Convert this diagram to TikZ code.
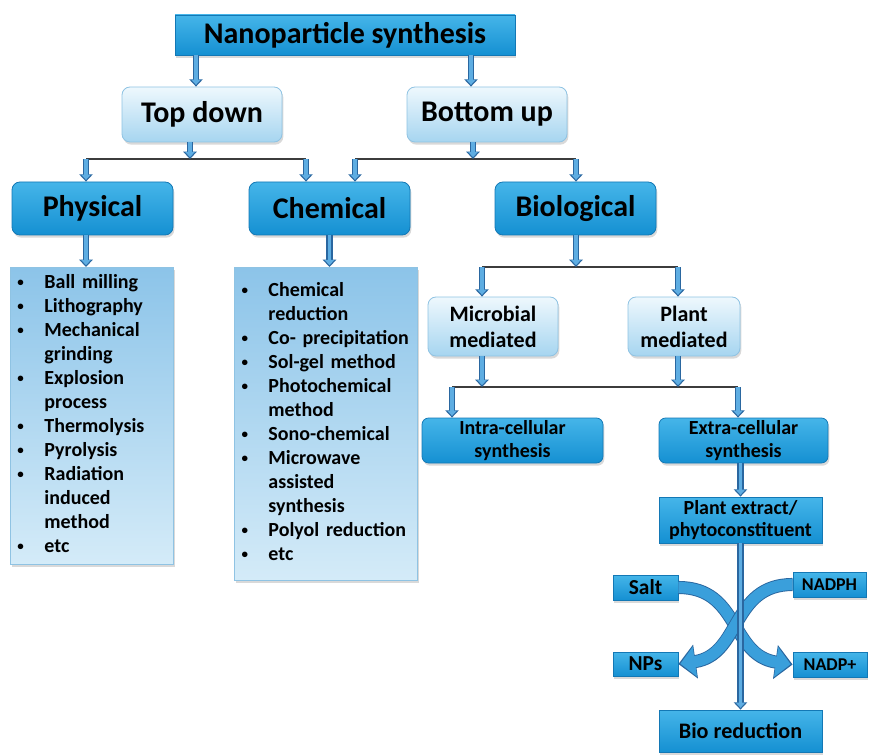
\documentclass[tikz,border=0pt]{standalone}
\usepackage{fontspec}
\usepackage{graphicx}
\setmainfont{Carlito}
\usetikzlibrary{arrows.meta,calc,positioning,shadows}
\definecolor{boxtop}{HTML}{45B5E9}
\definecolor{boxbot}{HTML}{1590D2}
\definecolor{boxedge}{HTML}{1378B5}
\definecolor{lighttop}{HTML}{EEF8FD}
\definecolor{lightbot}{HTML}{A6D5F0}
\definecolor{lightedge}{HTML}{8FC3E3}
\definecolor{listtop}{HTML}{8CC4E9}
\definecolor{listbot}{HTML}{D4EBF8}
\definecolor{arrdark}{HTML}{2A67A0}
\definecolor{arrlight}{HTML}{5EADE2}
\definecolor{bandblue}{HTML}{3A9FDB}
\definecolor{busgray}{HTML}{3C3C3C}
\tikzset{
 softshadow/.style={drop shadow={shadow xshift=1pt,shadow yshift=-2pt,opacity=.3}},
 darkbox/.style={shade,top color=boxtop,bottom color=boxbot,draw=boxedge,line width=.6pt,softshadow},
 lightbox/.style={shade,top color=lighttop,bottom color=lightbot,draw=lightedge,line width=.6pt,rounded corners=6pt,softshadow},
 listbox/.style={shade,top color=listtop,bottom color=listbot,draw=lightedge,line width=.6pt,softshadow},
 hd/.style={font=\fontsize{22.5}{26}\selectfont\bfseries},
 md/.style={font=\fontsize{16.5}{19.5}\selectfont\bfseries},
 sm/.style={font=\fontsize{15}{18}\selectfont\bfseries},
 tiny/.style={font=\fontsize{13.5}{16}\selectfont\bfseries},
 blk/.style={draw=arrlight,line width=2.6pt,shorten >=1.3pt,-{Triangle[width=7pt,length=4pt]},
  preaction={draw=arrdark,line width=4.8pt,shorten >=0pt,-{Triangle[width=10pt,length=5.5pt]}}},
 bus/.style={draw=busgray,line width=1pt},
 band/.style={draw=bandblue,line width=8.4pt,shorten >=1.5pt,-{Triangle[width=22pt,length=11pt]},
  preaction={draw=arrdark,line width=9.8pt,shorten >=0pt,-{Triangle[width=25pt,length=13pt]}}}
}
\newcommand{\itm}{\raisebox{.1em}{\scalebox{.65}{\textbullet}}}
\begin{document}
\begin{tikzpicture}[x=.75pt,y=-.75pt]
\useasboundingbox (0,0) rectangle (875,756);
% top levels
\node[darkbox,hd,minimum width=255pt,minimum height=30pt] (synth) at (345,35) {Nanoparticle synthesis};
\node[lightbox,hd,minimum width=120pt,minimum height=41.25pt] (topdown) at (202,114.5) {Top down};
\node[lightbox,hd,minimum width=120pt,minimum height=41.25pt] (bottomup) at (487,114.5) {Bottom up};
\node[darkbox,rounded corners=6pt,hd,minimum width=120.75pt,minimum height=39.75pt] (phys) at (92.5,208.5) {Physical};
\node[darkbox,rounded corners=6pt,hd,minimum width=120.75pt,minimum height=39.75pt] (chem) at (329.5,208.5) {Chemical};
\node[darkbox,rounded corners=6pt,hd,minimum width=120.75pt,minimum height=39.75pt] (bio) at (575.5,208.5) {Biological};
% method lists
\node[listbox,sm,anchor=north west,minimum width=122.25pt,minimum height=222pt,inner xsep=5.3pt,text width=111.6pt,align=left] (physlist) at (10,267)
 {\begin{tabular}{@{}p{20.2pt}@{}l@{}}
 \itm & Ball milling\\ \itm & Lithography\\ \itm & Mechanical\\ & grinding\\
 \itm & Explosion\\ & process\\ \itm & Thermolysis\\ \itm & Pyrolysis\\
 \itm & Radiation\\ & induced\\ & method\\ \itm & etc
 \end{tabular}};
\node[listbox,sm,anchor=north west,minimum width=137.25pt,minimum height=234.75pt,inner xsep=5.3pt,text width=126.6pt,align=left] (chemlist) at (234,267)
 {\begin{tabular}{@{}p{20.2pt}@{}l@{}}
 \itm & Chemical\\ & reduction\\ \itm & Co- precipitation\\ \itm & Sol-gel method\\
 \itm & Photochemical\\ & method\\ \itm & Sono-chemical\\ \itm & Microwave\\
 & assisted\\ & synthesis\\ \itm & Polyol reduction\\ \itm & etc
 \end{tabular}};
% biological branch
\node[lightbox,md,align=center,inner sep=1pt,minimum width=97.5pt,minimum height=44.25pt] (microbial) at (493,326.5) {Microbial\\mediated};
\node[lightbox,md,align=center,inner sep=1pt,minimum width=84pt,minimum height=44.25pt] (plant) at (684,326.5) {Plant\\mediated};
\node[darkbox,rounded corners=5pt,sm,align=center,inner sep=1pt,minimum width=135.75pt,minimum height=33.75pt] (intra) at (512.5,440.5) {Intra-cellular\\[-1pt]synthesis};
\node[darkbox,rounded corners=5pt,sm,align=center,inner sep=1pt,minimum width=126.75pt,minimum height=33.75pt] (extra) at (743.5,440.5) {Extra-cellular\\[-1pt]synthesis};
\node[darkbox,sm,align=center,inner sep=1pt,minimum width=122.25pt,minimum height=34.5pt] (extract) at (740.5,520) {Plant extract/\\[-2pt]phytoconstituent};
\node[darkbox,font=\fontsize{16.6}{19}\selectfont\bfseries,minimum width=122.25pt,minimum height=31.5pt] (bioreduc) at (740.5,731) {Bio reduction};
\node[darkbox,font=\fontsize{16}{19}\selectfont\bfseries,inner sep=1pt,minimum width=48.75pt,minimum height=18.75pt] (salt) at (645.5,587.5) {Salt};
\node[darkbox,tiny,inner sep=1pt,minimum width=54.75pt,minimum height=18.75pt] (nadph) at (829.5,584.5) {NADPH};
\node[darkbox,font=\fontsize{16}{19}\selectfont\bfseries,inner sep=1pt,minimum width=48.75pt,minimum height=18pt] (nps) at (645.5,664) {NPs};
\node[darkbox,tiny,inner sep=1pt,minimum width=55.5pt,minimum height=18.75pt] (nadp) at (830,664.5) {NADP+};
% bus points
\coordinate (tdA) at (190,159);
\coordinate (pA) at (86,159);
\coordinate (cA) at (306,159);
\coordinate (buB) at (473,159);
\coordinate (cB) at (355,159);
\coordinate (bB) at (576,159);
\coordinate (bioC) at (576,267);
\coordinate (mC) at (482,267);
\coordinate (plC) at (678,267);
\coordinate (mD) at (482,387);
\coordinate (plD) at (678,387);
\coordinate (inD) at (452,387);
\coordinate (exD) at (738,387);
% connectors
\draw[blk] ($(topdown.north |- synth.south)+(-6,0)$) -- ($(topdown.north)+(-6,0)$);
\draw[blk] ($(bottomup.north |- synth.south)+(-16,0)$) -- ($(bottomup.north)+(-16,0)$);
\draw[bus] (pA) -- (cA);
\draw[bus] (cB) -- (bB);
\draw[blk] (tdA |- topdown.south) -- (tdA);
\draw[blk] (buB |- bottomup.south) -- (buB);
\draw[blk] (pA) -- (pA |- phys.north);
\draw[blk] (cA) -- (cA |- chem.north);
\draw[blk] (cB) -- (cB |- chem.north);
\draw[blk] (bB) -- (bB |- bio.north);
\draw[blk] (pA |- phys.south) -- (pA |- physlist.north);
\draw[blk] (chem.south) -- (chem.south |- chemlist.north);
\draw[bus] (mC) -- (plC);
\draw[blk] (bioC |- bio.south) -- (bioC);
\draw[blk] (mC) -- (mC |- microbial.north);
\draw[blk] (plC) -- (plC |- plant.north);
\draw[bus] (inD) -- (exD);
\draw[blk] (mD |- microbial.south) -- (mD);
\draw[blk] (plD |- plant.south) -- (plD);
\draw[blk] (inD) -- (inD |- intra.north);
\draw[blk] (exD) -- (exD |- extra.north);
\draw[blk] (extract.north |- extra.south) -- (extract.north);
% crossing reactions
\draw[band] (salt.east) .. controls +(62,0) and +(-63,-9) .. (nadp.west);
\draw[band] (nadph.west) .. controls +(-62,0) and +(63,-9) .. (nps.east);
\draw[blk] (extract.south) -- (bioreduc.north);
\end{tikzpicture}
\end{document}
